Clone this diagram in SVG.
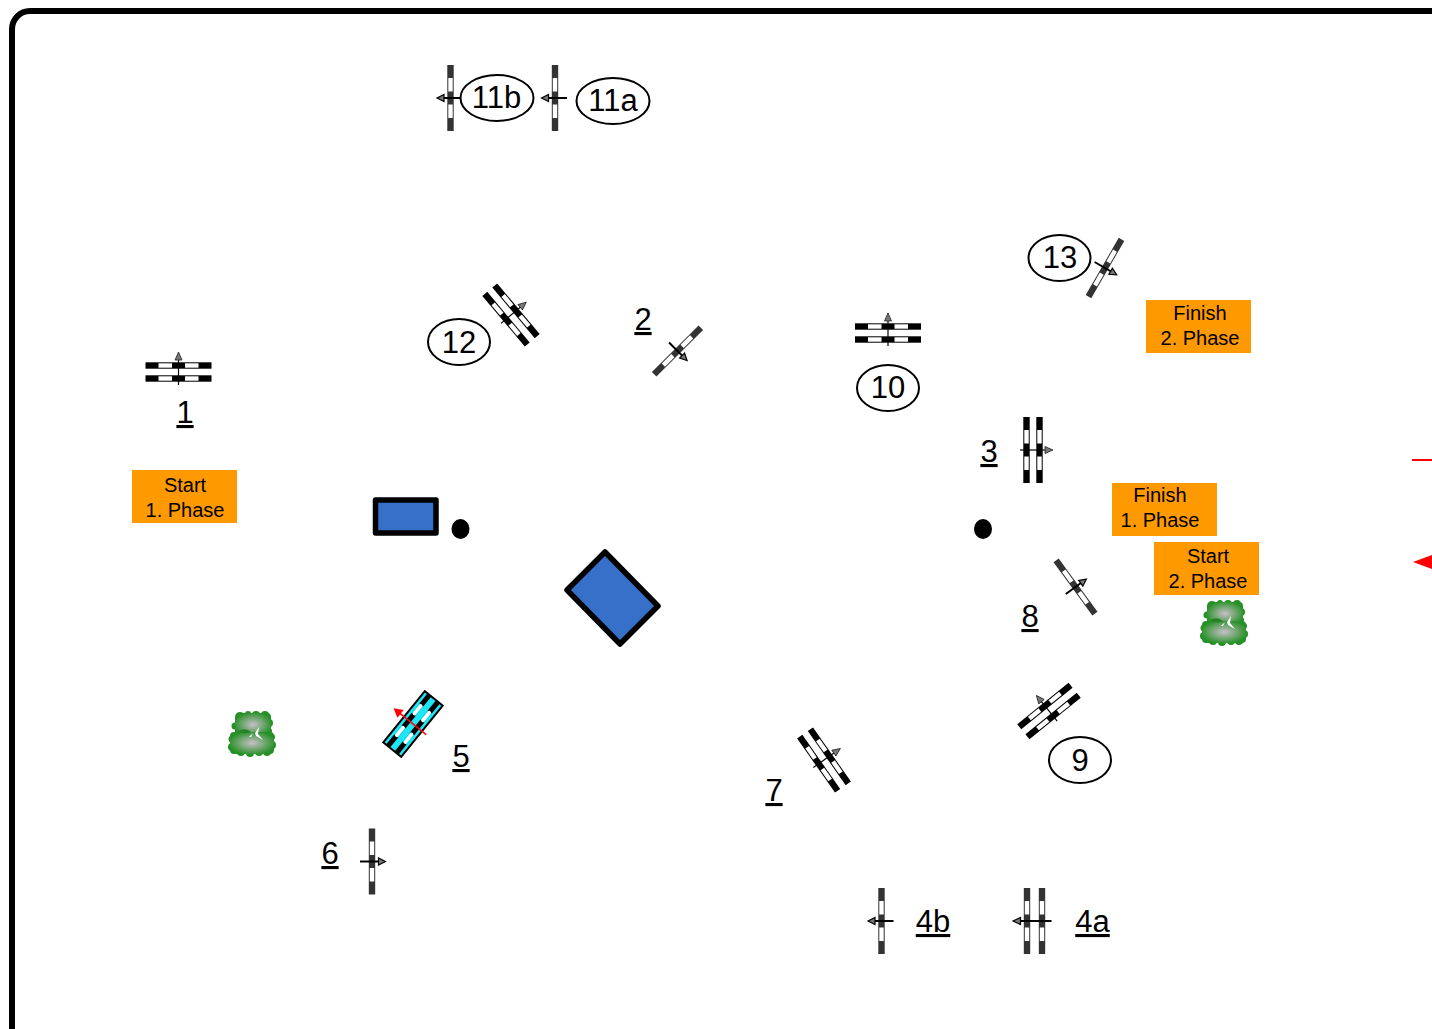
<svg xmlns="http://www.w3.org/2000/svg" xmlns:xlink="http://www.w3.org/1999/xlink" width="1432" height="1029" viewBox="0 0 1432 1029">
<style>
text{font-family:"Liberation Sans",Arial,sans-serif;fill:#000;text-anchor:middle}
.n{font-size:31px}
.u{font-size:31px;text-decoration:underline;text-decoration-thickness:1px}
.o{font-size:20px}
.e{fill:#fff;stroke:#000;stroke-width:2}
.st{fill:#f90}
.b{fill:#3670c8;stroke:#000;stroke-width:5.500;stroke-linejoin:round}
.al{stroke:#000;stroke-width:2;fill:none}
</style>
<defs>
<g id="railK">
<rect x="-3.200" y="-33" width="6.400" height="66" fill="#000"/>
<rect x="-2.200" y="-20" width="4.400" height="13.500" fill="#fff"/>
<rect x="-2.200" y="6.500" width="4.400" height="13.500" fill="#fff"/>
</g>
<g id="railG">
<rect x="-3.200" y="-33" width="6.400" height="66" fill="#333"/>
<rect x="-2.200" y="-20" width="4.400" height="13.500" fill="#fff"/>
<rect x="-2.200" y="6.500" width="4.400" height="13.500" fill="#fff"/>
</g>
<g id="arrow">
<path class="al" d="M-12 0H8"/>
<path d="M13.500 0L6.500 -3.500V3.500Z" fill="#777" stroke="#000" stroke-width="1.200"/>
</g>
<g id="arrowD">
<path d="M-13 0H13" stroke="#000" stroke-width="1.200" fill="none"/>
<path d="M20 0L12 -3.500V3.500Z" fill="#777" stroke="#222" stroke-width="0.800"/>
</g>
<g id="oxer">
<use xlink:href="#railK" x="-6.500"/>
<use xlink:href="#railK" x="6.500"/>
<use xlink:href="#arrowD"/>
</g>
<g id="single">
<use xlink:href="#railG"/>
<use xlink:href="#arrow"/>
</g>
<radialGradient id="tg" r="0.55">
<stop offset="0" stop-color="#c8c0c8"/>
<stop offset="1" stop-color="#259025"/>
</radialGradient>
<g id="tree">
<g fill="#259025">
<circle cx="-12" cy="-18" r="4"/><circle cx="-4" cy="-20" r="3"/><circle cx="4" cy="-19" r="4"/><circle cx="13" cy="-19" r="4"/>
<circle cx="17" cy="-11" r="4"/><circle cx="-17" cy="-8" r="3.500"/><circle cx="17" cy="-3" r="3"/>
<circle cx="-20" cy="5" r="3.500"/><circle cx="-20" cy="13" r="4"/><circle cx="-11" cy="18" r="4"/><circle cx="-2" cy="19" r="4"/>
<circle cx="7" cy="18" r="4"/><circle cx="15" cy="18" r="4"/><circle cx="20" cy="11" r="4"/><circle cx="20" cy="3" r="3"/>
</g>
<rect x="-17" y="-21" width="36" height="23" rx="4" fill="url(#tg)"/>
<rect x="-22" y="-2" width="44" height="22" rx="4" fill="url(#tg)"/>
<path d="M-14 -3Q-6 -7 -1 -2Q-8 1 -14 -3Z" fill="#2a7f2a"/>
<path d="M3 -1L7 -7L6 0L11 6L4 2Z" fill="#fff"/>
<path d="M-3 3L1 -1L-1 3Z" fill="#fff"/>
</g>
</defs>

<rect id="border" x="12" y="11" width="1500" height="1100" rx="18" fill="#fff" stroke="#000" stroke-width="6"/>

<g id="jump-11b"><use xlink:href="#single" transform="translate(450.500 98) rotate(180)"/></g>
<g id="label-11b"><ellipse class="e" cx="497" cy="98" rx="36.500" ry="23"/><text class="n" x="496.500" y="108">11b</text></g>
<g id="jump-11a"><use xlink:href="#single" transform="translate(555 98) rotate(180)"/></g>
<g id="label-11a"><ellipse class="e" cx="613" cy="101" rx="36.500" ry="23"/><text class="n" x="613" y="111">11a</text></g>

<g id="jump-13"><use xlink:href="#single" transform="translate(1105 268) rotate(30)"/></g>
<g id="label-13"><ellipse class="e" cx="1059.500" cy="258" rx="31" ry="23"/><text class="n" x="1060" y="268">13</text></g>

<g id="jump-12"><use xlink:href="#oxer" transform="translate(511 315) rotate(-40)"/></g>
<g id="label-12"><ellipse class="e" cx="459" cy="342" rx="31" ry="23"/><text class="n" x="459" y="353">12</text></g>

<g id="jump-2"><use xlink:href="#single" transform="translate(677.500 351) rotate(45)"/><text class="u" x="643" y="330">2</text></g>

<g id="jump-10"><use xlink:href="#oxer" transform="translate(888 333) rotate(-90)"/></g>
<g id="label-10"><ellipse class="e" cx="888" cy="388" rx="31" ry="23"/><text class="n" x="888" y="398">10</text></g>

<g id="jump-1"><use xlink:href="#oxer" transform="translate(178.500 372) rotate(-90)"/><text class="u" x="185" y="423">1</text></g>

<g id="jump-3"><use xlink:href="#oxer" transform="translate(1033 450)"/><text class="u" x="989" y="462">3</text></g>

<g id="finish-2"><rect class="st" x="1146" y="300" width="105" height="53"/><text class="o" x="1200" y="320">Finish</text><text class="o" x="1200" y="345">2. Phase</text></g>
<g id="start-1"><rect class="st" x="132" y="470" width="105" height="53"/><text class="o" x="185" y="492">Start</text><text class="o" x="185" y="517">1. Phase</text></g>
<g id="finish-1"><rect class="st" x="1112" y="483" width="105" height="53"/><text class="o" x="1160" y="502">Finish</text><text class="o" x="1160" y="527">1. Phase</text></g>
<g id="start-2"><rect class="st" x="1154" y="542" width="105" height="53"/><text class="o" x="1208" y="563">Start</text><text class="o" x="1208" y="588">2. Phase</text></g>

<g id="obstacle-a"><rect class="b" x="375.500" y="500" width="60.500" height="33"/></g>
<g id="obstacle-b"><path class="b" d="M605 552L658 606L620 644L567 590Z"/></g>
<g id="dot-a"><ellipse cx="460.500" cy="529" rx="9" ry="10"/></g>
<g id="dot-b"><ellipse cx="983" cy="529" rx="9" ry="10"/></g>

<g id="jump-8"><use xlink:href="#single" transform="translate(1075.500 587) rotate(-36)"/><text class="u" x="1030" y="627">8</text></g>
<g id="tree-b"><use xlink:href="#tree" transform="translate(1224 623)"/></g>
<g id="tree-a"><use xlink:href="#tree" transform="translate(252 734)"/></g>

<g id="jump-9"><use xlink:href="#oxer" transform="translate(1049 711) rotate(-129)"/></g>
<g id="label-9"><ellipse class="e" cx="1080" cy="760" rx="31" ry="23"/><text class="n" x="1080" y="771">9</text></g>

<g id="jump-7"><use xlink:href="#oxer" transform="translate(824 760) rotate(-35)"/><text class="u" x="774" y="801">7</text></g>

<g id="jump-5" transform="translate(413 724) rotate(-141)">
<rect x="-11.500" y="-33" width="23" height="66" fill="#1ee6f5" stroke="#000" stroke-width="2"/>
<path d="M-5.500 -33V33M5.500 -33V33" stroke="#000" stroke-width="5" stroke-dasharray="13 0"/>
<path d="M-5.500 -20V-8M5.500 -20V-8M-5.500 8V20M5.500 8V20" stroke="#1ee6f5" stroke-width="5.500"/>
<path d="M-5.500 -19V-9M5.500 -19V-9M-5.500 9V19M5.500 9V19" stroke="#fff" stroke-width="3.500" stroke-linecap="round"/>
<path d="M-17 0H18" stroke="#f00" stroke-width="1.500"/>
<path d="M25 0L16 -5V5Z" fill="#f00"/>
</g>
<text class="u" id="label-5" x="461" y="767">5</text>

<g id="jump-6"><use xlink:href="#single" transform="translate(372 861.500)"/><text class="u" x="330" y="864">6</text></g>

<g id="jump-4b"><use xlink:href="#single" transform="translate(881.500 921) rotate(180)"/><text class="u" x="933" y="932">4b</text></g>
<g id="jump-4a" transform="translate(1034.500 921)">
<use xlink:href="#railG" x="-7.500"/><use xlink:href="#railG" x="7.500"/>
<path class="al" d="M17 0H-14"/><path d="M-21.500 0L-14 -3.500V3.500Z" fill="#777" stroke="#000" stroke-width="1.200"/>
<text class="u" x="58" y="11">4a</text>
</g>

<g id="connectors">
<path d="M1412 460H1432" stroke="#f00" stroke-width="2"/>
<path d="M1413 562L1432 555V569Z" fill="#f00"/>
</g>
</svg>
